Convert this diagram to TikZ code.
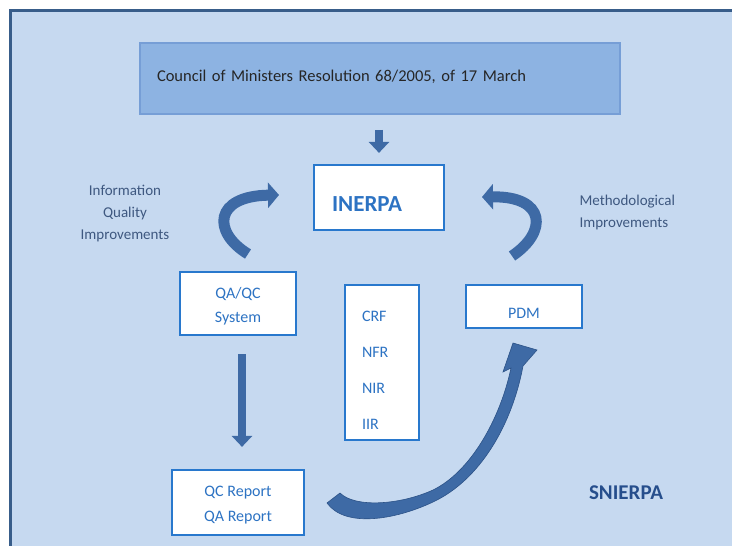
\documentclass[tikz,border=0pt]{standalone}
\usepackage{fontspec}
\setmainfont{Carlito}
\usetikzlibrary{arrows.meta}
\definecolor{PageBlue}{RGB}{198,217,240}
\definecolor{FrameBlue}{RGB}{56,93,138}
\definecolor{CouncilFill}{RGB}{141,179,226}
\definecolor{CouncilEdge}{RGB}{118,158,214}
\definecolor{BoxEdge}{RGB}{40,120,205}
\definecolor{BoxText}{RGB}{45,115,195}
\definecolor{NoteText}{RGB}{62,88,128}
\definecolor{TitleText}{RGB}{38,78,140}
\definecolor{ArrowBlue}{RGB}{62,106,165}
\definecolor{ArrowEdge}{RGB}{44,82,135}
% extra room above / below the first line of a box
\newcommand{\padtop}[1]{\rule{0pt}{\dimexpr 0.66em + #1\relax}}
\newcommand{\padbot}[1]{\rule[-#1]{0pt}{0pt}}

\begin{document}
\begin{tikzpicture}[x=1pt, y=-1pt,
    councilbox/.style={draw=CouncilEdge, fill=CouncilFill, line width=1.5pt, inner xsep=17pt, text=black!85, font=\fontsize{16.5}{19}\selectfont},
    panel/.style={draw=BoxEdge, line width=2.2pt, fill=white, text=BoxText, inner sep=0pt, align=center, font=\fontsize{16}{24}\selectfont},
    note/.style={text=NoteText, font=\fontsize{15}{22}\selectfont},
    arr/.style={ArrowBlue, line width=8pt, -{Triangle[length=11pt, width=20pt]}},
    curvearr/.style={ArrowBlue, line width=11pt, -{Triangle[length=11pt, width=25pt]}}]
    \useasboundingbox (0,0) rectangle (732,546);
    \clip (0,0) rectangle (732,546);

    % Frame
    \fill[PageBlue] (10,10) rectangle (740,560);
    \draw[FrameBlue, line width=3pt] (10.5,560) -- (10.5,10.5) -- (740,10.5);

    % Resolution
    \node[councilbox, minimum width=480pt, minimum height=71pt, text width=446pt, align=left] (council) at (380,78.5) {Council of Ministers Resolution 68/2005, of 17 March\padbot{6pt}};

    % Boxes
    \node[panel, minimum width=130pt, minimum height=65pt, text width=94pt, inner xsep=18pt, align=left, font=\fontsize{23}{26}\selectfont\bfseries] (inerpa) at (379,197.5) {\padtop{12pt}INERPA};
    \node[panel, minimum width=116pt, minimum height=63pt] (qaqc) at (238,303.5) {\padtop{6pt}QA/QC\\System};
    \node[panel, minimum width=74pt, minimum height=155pt, text width=40pt, inner xsep=17pt, align=left, font=\fontsize{16}{36}\selectfont] (forms) at (382,362.5) {\padtop{16pt}CRF\\NFR\\NIR\\IIR};
    \node[panel, minimum width=116pt, minimum height=43pt] (pdm) at (524,306.5) {\padtop{14pt}PDM};
    \node[panel, minimum width=132pt, minimum height=65pt, font=\fontsize{16}{25}\selectfont] (qcrep) at (238,502.5) {\padtop{6pt}QC Report\\QA Report};

    % Labels
    \node[note, align=center] (infonote) at (125,214) {Information\\Quality\\Improvements};
    \node[note, align=left, anchor=west] (methnote) at (576,212.5) {Methodological\\Improvements};
    \node[text=TitleText, font=\fontsize{21}{24}\selectfont\bfseries] (snierpa) at (626,493) {SNIERPA};

    % Straight arrows
    \draw[arr, shorten <=15pt, shorten >=11pt] (inerpa.north |- council.south) -- (inerpa.north);
    \draw[arr, shorten <=18pt, shorten >=22pt] ([xshift=4pt]qaqc.south) -- ([xshift=4pt]qcrep.north);

    % Curved arrows
    \coordinate (infotail) at (248,254);
    \coordinate (infohead) at (279,195);
    \draw[curvearr] (infotail) .. controls (212,232) and (214,196) .. (infohead);
    \coordinate (methtail) at (512,256);
    \coordinate (methhead) at (482,197);
    \draw[curvearr] (methtail) .. controls (548,232) and (546,196) .. (methhead);

    % Report arrow
    \fill[ArrowBlue, draw=ArrowEdge, line width=0.6pt] (340,493) .. controls (355,508) and (400,505) .. (433,490)
        .. controls (470,472) and (500,420) .. (511,368)
        -- (503,372) -- (513,343) -- (537,350) -- (523,366)
        .. controls (512,425) and (480,480) .. (433,502)
        .. controls (395,520) and (345,528) .. (327,503) -- cycle;
\end{tikzpicture}
\end{document}
